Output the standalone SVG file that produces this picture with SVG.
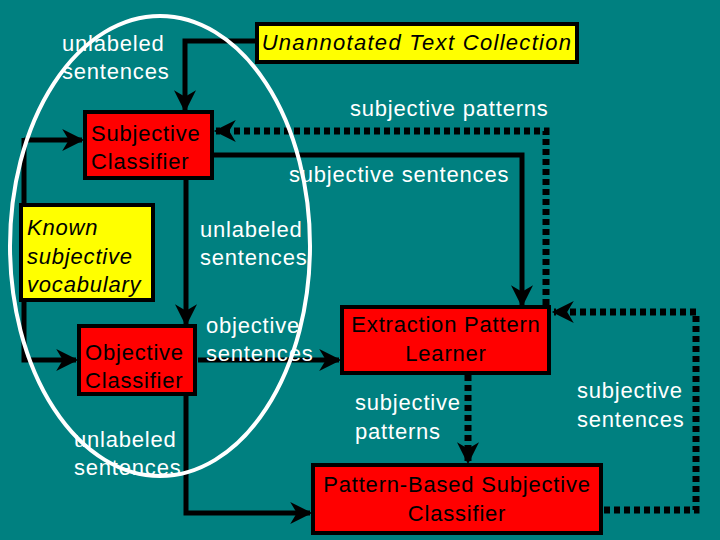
<svg xmlns="http://www.w3.org/2000/svg" width="720" height="540" viewBox="0 0 720 540">
<defs>
<marker id="ah" viewBox="0 0 10 10" refX="9" refY="5" markerWidth="22" markerHeight="22" orient="auto" markerUnits="userSpaceOnUse" style="overflow:visible">
<path d="M0,0 L10,5 L0,10 L3,5 Z" fill="#000"/>
</marker>
<style>
.bg{fill:#008080}
.red{fill:#ff0000;stroke:#000;stroke-width:4}
.yel{fill:#ffff00;stroke:#000;stroke-width:4}
.t{font-family:"Liberation Sans",Arial,sans-serif;font-size:22px;letter-spacing:0.8px}
.w{fill:#fff}
.k{fill:#000}
.it{font-style:italic}
.c{fill:none;stroke:#000;stroke-width:5}
.d{fill:none;stroke:#000;stroke-width:7;stroke-dasharray:6 4}
</style>
</defs>
<rect class="bg" width="720" height="540"/>
<g id="connectors">
<path class="c" d="M256,41 H185 V110" marker-end="url(#ah)"/>
<path class="c" d="M24,140 H82" marker-end="url(#ah)"/>
<path class="c" d="M24,138 V360 H76" marker-end="url(#ah)"/>
<path class="c" d="M186,178 V324" marker-end="url(#ah)"/>
<path class="c" d="M198,360 H339" marker-end="url(#ah)"/>
<path class="c" d="M214,155 H522 V305" marker-end="url(#ah)"/>
<path class="c" d="M186,395 V513 H310" marker-end="url(#ah)"/>
<path class="d" d="M546,305 V131 H216" marker-end="url(#ah)"/>
<path class="d" d="M604,510 H696 V312 H554" marker-end="url(#ah)"/>
<path class="d" d="M468,375 V462" marker-end="url(#ah)"/>
</g>
<g id="unannotated"><rect class="yel" x="257" y="24" width="320" height="38"/><text class="t k it" x="417" y="50" text-anchor="middle" style="letter-spacing:1.3px">Unannotated Text Collection</text></g>
<g id="subjclass"><rect class="red" x="85" y="112" width="127" height="66"/><text class="t k" x="91" y="141">Subjective</text><text class="t k" x="91" y="169">Classifier</text></g>
<g id="known"><rect class="yel" x="21" y="205" width="132" height="95"/><text class="t k it" x="27" y="235">Known</text><text class="t k it" x="27" y="264">subjective</text><text class="t k it" x="27" y="292">vocabulary</text></g>
<g id="objclass"><rect class="red" x="79" y="326" width="116" height="68"/><text class="t k" x="85" y="360">Objective</text><text class="t k" x="85" y="388">Classifier</text></g>
<g id="extraction"><rect class="red" x="342" y="307" width="207" height="66"/><text class="t k" x="446" y="332" text-anchor="middle">Extraction Pattern</text><text class="t k" x="446" y="361" text-anchor="middle">Learner</text></g>
<g id="patternbased"><rect class="red" x="313" y="465" width="288" height="68"/><text class="t k" x="457" y="492" text-anchor="middle">Pattern-Based Subjective</text><text class="t k" x="457" y="521" text-anchor="middle">Classifier</text></g>
<g id="labels">
<text class="t w" x="62" y="51">unlabeled</text><text class="t w" x="62" y="79">sentences</text>
<text class="t w" x="350" y="116">subjective patterns</text>
<text class="t w" x="289" y="182">subjective sentences</text>
<text class="t w" x="200" y="237">unlabeled</text><text class="t w" x="200" y="265">sentences</text>
<text class="t w" x="206" y="333">objective</text><text class="t w" x="206" y="361">sentences</text>
<text class="t w" x="355" y="410">subjective</text><text class="t w" x="355" y="439">patterns</text>
<text class="t w" x="577" y="398">subjective</text><text class="t w" x="577" y="427">sentences</text>
<text class="t w" x="74" y="447">unlabeled</text><text class="t w" x="74" y="475">sentences</text>
</g>
<ellipse cx="160" cy="246" rx="150" ry="230" fill="none" stroke="#fff" stroke-width="4"/>
</svg>
